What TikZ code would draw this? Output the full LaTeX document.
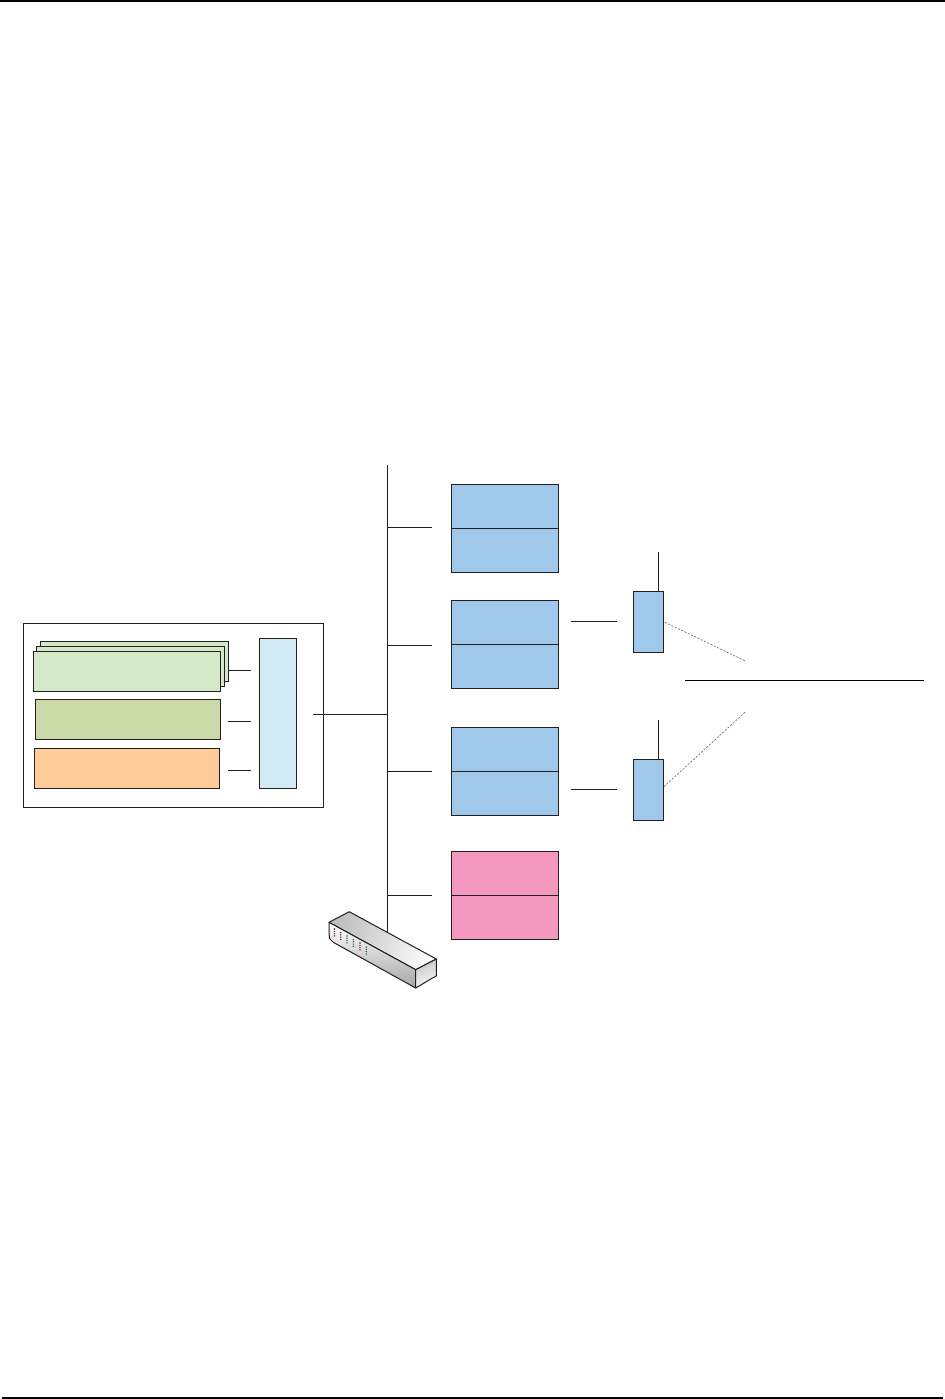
\documentclass[tikz,border=0pt]{standalone}
\usepackage{xcolor}
\definecolor{bluebox}{HTML}{9FC8EA}
\definecolor{pinkbox}{HTML}{F498C0}
\definecolor{greenbox}{HTML}{D2E8C8}
\definecolor{olivebox}{HTML}{CBD9A8}
\definecolor{orangebox}{HTML}{FFCC99}
\definecolor{palebox}{HTML}{D2EAF3}
\definecolor{ink}{HTML}{231F20}
\definecolor{ledred}{HTML}{5A2A30}
\definecolor{ledgreen}{HTML}{2A5A50}
\newcommand{\pxbox}[6]{%
  \pgfmathsetmacro{\bw}{(#4-#2)*0.75}%
  \pgfmathsetmacro{\bh}{(#5-#3)*0.75}%
  \node[boxnode,fill=#6,minimum width=\bw pt,minimum height=\bh pt] (#1) at ({(#2+#4)/2},{(#3+#5)/2}) {};}
\tikzset{
  boxnode/.style={draw=ink,line width=0.75pt,inner sep=0pt,outer sep=0pt},
  wire/.style={draw=ink,line width=0.75pt},
  radiolink/.style={draw=black!55,line width=0.5pt,dash pattern=on 1.6pt off 1.1pt},
  edge rule/.style={draw=black,line width=1.5pt},
  swface/.style={draw=ink,line width=0.75pt,line join=round},
}
\begin{document}
\begin{tikzpicture}[x=0.75pt,y=-0.75pt]
\useasboundingbox (0,0) rectangle (945,1399);
\fill[white] (0,0) rectangle (945,1399);
% page rules
\coordinate (tl) at (0,0.7); \coordinate (tr) at (945,0.7);
\coordinate (bl) at (2,1397.5); \coordinate (br) at (943,1397.5);
\draw[edge rule] (tl) -- (tr);
\draw[edge rule] (bl) -- (br);
% left enclosure
\pxbox{outer}{23.3}{623.3}{323.3}{807.3}{white}
\pxbox{g3}{40.3}{641.3}{228.3}{681.3}{greenbox}
\pxbox{g2}{36.3}{646.3}{224.7}{686.3}{greenbox}
\pxbox{g1}{33.3}{651.3}{220.7}{691.3}{greenbox}
\pxbox{olive}{35.3}{699.3}{220.7}{739.3}{olivebox}
\pxbox{orange}{34.3}{748.3}{219.3}{788.3}{orangebox}
\pxbox{pale}{259.3}{638.3}{296.3}{788.3}{palebox}
\coordinate (ga) at (228.3,670.3); \coordinate (gb) at (251,670.3);
\coordinate (oa) at (228.3,721.3); \coordinate (ob) at (251,721.3);
\coordinate (ra) at (228.3,770.3); \coordinate (rb) at (251,770.3);
\draw[wire] (ga) -- (gb);
\draw[wire] (oa) -- (ob);
\draw[wire] (ra) -- (rb);
% bus
\coordinate (bustop) at (387,465); \coordinate (busbot) at (387,935);
\coordinate (feedA) at (313,714.3); \coordinate (feedB) at (387,714.3);
\draw[wire] (bustop) -- (busbot);
\draw[wire] (feedA) -- (feedB);
\foreach \n/\y in {a/527,b/645,c/771,d/895}{
  \coordinate (\n1) at (387,\y); \coordinate (\n2) at (432,\y);
  \draw[wire] (\n1) -- (\n2);
}
% stacks
\pxbox{s1t}{451.3}{484.3}{558.3}{528.3}{bluebox}
\pxbox{s1b}{451.3}{528.3}{558.3}{572.3}{bluebox}
\pxbox{s2t}{451.3}{600.3}{558.3}{644.3}{bluebox}
\pxbox{s2b}{451.3}{644.3}{558.3}{688.3}{bluebox}
\pxbox{s3t}{451.3}{727.3}{558.3}{771.3}{bluebox}
\pxbox{s3b}{451.3}{771.3}{558.3}{815.3}{bluebox}
\pxbox{s4t}{451.3}{851.3}{558.3}{895.3}{pinkbox}
\pxbox{s4b}{451.3}{895.3}{558.3}{939.3}{pinkbox}
% radios
\pxbox{r1}{633.3}{591}{663.7}{652.3}{bluebox}
\pxbox{r2}{633.3}{759.3}{663.7}{820.3}{bluebox}
\coordinate (l1a) at (571,621); \coordinate (l1b) at (617,621);
\coordinate (l2a) at (571,789); \coordinate (l2b) at (617,789);
\draw[wire] (l1a) -- (l1b);
\draw[wire] (l2a) -- (l2b);
\coordinate (ant1) at (658.3,552); \coordinate (ant1b) at (658.3,591);
\coordinate (ant2) at (658.3,720); \coordinate (ant2b) at (658.3,759.3);
\draw[wire] (ant1) -- (ant1b);
\draw[wire] (ant2) -- (ant2b);
\coordinate (d1a) at (665,622.3); \coordinate (d1b) at (746,661.3);
\coordinate (d2a) at (664,786.7); \coordinate (d2b) at (746,711.3);
\draw[radiolink] (d1a) -- (d1b);
\draw[radiolink] (d2a) -- (d2b);
\coordinate (neta) at (685,680.3); \coordinate (netb) at (924,680.3);
\draw[draw=black,line width=0.85pt] (neta) -- (netb);
% switch
\path[swface,left color=black!25,right color=black!2,shading angle=70]
  (329,922.3) -- (349.3,911.7) -- (436.3,959) -- (415.7,969.7) -- cycle;
\path[swface,left color=white,right color=black!35,shading angle=0]
  (329,922.3) -- (415.7,969.7) -- (415.7,988) -- (333.3,942.3) -- (329.3,938.3) -- cycle;
\path[swface,left color=black!3,right color=black!22,shading angle=200]
  (415.7,969.7) -- (436.3,959) -- (436.3,976) -- (433,977.7) -- (415.7,988) -- cycle;
\foreach \x/\y/\c in {334.5/929/ledred,340.7/932.5/ledred,347/936/ledgreen,353.3/939.5/ledgreen,360/943/ledred,366.3/947/ledgreen}{
  \foreach \k in {0,2.3,4.6,6.9}{
    \fill[\c] (\x,\y+\k) circle (0.8);
  }
}
\end{tikzpicture}
\end{document}
